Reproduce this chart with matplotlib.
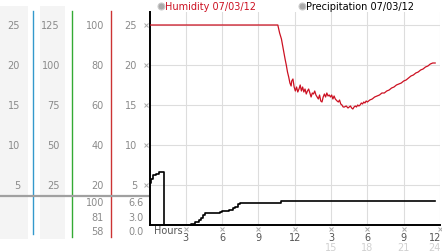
import matplotlib
matplotlib.use('Agg')
import matplotlib.pyplot as plt
from matplotlib import transforms

# humidity in %, drawn on the 0-25 scale (100% = 25)
hum_hours = [0.0, 10.6, 10.75, 10.9, 11.05, 11.2, 11.3, 11.4, 11.5, 11.6, 11.7, 11.75, 11.85,
             11.95, 12.05, 12.15, 12.25, 12.35, 12.45, 12.55, 12.65, 12.75, 12.85, 12.95,
             13.05, 13.15, 13.25, 13.35, 13.45, 13.55, 13.65, 13.75, 13.85, 13.95, 14.05,
             14.15, 14.25, 14.35, 14.45, 14.55, 14.65, 14.75, 14.85, 14.95, 15.05, 15.15,
             15.25, 15.35, 15.5, 15.6, 15.7, 15.8, 15.9, 16.0, 16.1, 16.25, 16.4, 16.5,
             16.6, 16.7, 16.8, 16.9, 17.0, 17.1, 17.2, 17.3, 17.4, 17.5, 17.6, 17.7, 17.8,
             17.9, 18.0, 18.2, 18.4, 18.6, 18.8, 19.0, 19.2, 19.4, 19.6, 19.8, 20.0, 20.2,
             20.4, 20.6, 20.8, 21.0, 21.2, 21.4, 21.6, 21.8, 22.0, 22.2, 22.4, 22.6, 22.8,
             23.0, 23.2, 23.4, 23.6]
hum_pct = [100, 100, 96, 93, 88, 83, 80, 76.5, 74, 71, 69.5, 72, 73,
           69, 67, 69, 66.5, 68, 70, 67, 69, 66.5, 68, 65.5,
           67, 68, 66, 64, 66, 65.5, 67, 65, 64, 63, 65,
           62, 61.5, 64, 65.5, 64, 66, 64.5, 65, 64, 65, 63,
           64.5, 63, 62, 61.5, 62.5, 60.5, 60, 59, 59, 59.5, 58.5, 59,
           59.5, 58.5, 58, 59, 59.5, 59, 60, 59.5, 60, 61, 60.5, 61.5, 61,
           62, 61.5, 62.5, 63, 64, 64.5, 65, 66, 66, 67, 67.5, 68.5, 69,
           70, 70.5, 71, 72, 72.5, 73.5, 74.5, 75, 76, 76.5, 77.5, 78, 79,
           79.5, 80.5, 81, 81]

# precipitation (steps)
pre_hours = [0.0, 0.15, 0.3, 0.55, 0.8, 1.18, 3.45, 3.75, 4.1, 4.25, 4.4, 4.6,
             5.8, 5.95, 6.6, 6.9, 7.1, 7.3, 7.5, 10.9, 23.6]
pre_vals = [5.3, 5.8, 6.25, 6.4, 6.6, 0.0, 0.15, 0.4, 0.6, 0.9, 1.2, 1.5,
            1.6, 1.8, 1.9, 2.1, 2.3, 2.6, 2.75, 3.0, 3.0]

scale1 = [25, 20, 15, 10, 5]
scale2 = [125, 100, 75, 50, 25]
scale3 = [100, 80, 60, 40, 20]
scale4 = [25, 20, 15, 10, 5]
xtick_pos = [3, 6, 9, 12, 15, 18, 21, 24]
xtick_lab = ['3', '6', '9', '12', '3', '6', '9', '12']
xtick_lab2 = ['15', '18', '21', '24']

W, H = 442, 253
fig = plt.figure(figsize=(W / 100, H / 100), dpi=100)

# pixel overlay for the side panels
ov = fig.add_axes([0, 0, 1, 1])
ov.set_xlim(0, W)
ov.set_ylim(H, 0)
ov.axis('off')

ax = fig.add_axes([149.5 / W, 1 - 226 / H, 290.5 / W, 213 / H])
ax.set_facecolor('none')
ax.set_xlim(0, 24)
ax.set_ylim(0, 213 / 8)

lab_c = '#8a8a8a'
fs = 7

# panel backgrounds and coloured bars
ov.fill_between([0, 28], 7, 240, color='#f4f4f4', lw=0)
ov.fill_between([40, 65], 7, 240, color='#f4f4f4', lw=0)
ov.plot([33, 33], [12, 235], color='#3399cc', lw=1)
ov.plot([72, 72], [12, 238], color='#33aa33', lw=1)
ov.plot([111, 111], [12, 238], color='#cc3333', lw=1)
ov.plot([0, 149], [196.5, 196.5], color='#a0a0a0', lw=1.6)

# scale labels placed at data heights
tr = transforms.blended_transform_factory(ov.transData, ax.transData)
for i in range(len(scale4)):
    y = scale4[i]
    ov.text(20, y, str(scale1[i]), transform=tr, ha='right', va='center', fontsize=fs, color=lab_c)
    ov.text(60, y, str(scale2[i]), transform=tr, ha='right', va='center', fontsize=fs, color=lab_c)
    ov.text(104, y, str(scale3[i]), transform=tr, ha='right', va='center', fontsize=fs, color=lab_c)
    ov.text(137, y, str(scale4[i]), transform=tr, ha='right', va='center', fontsize=fs, color=lab_c)
    ov.plot(145.5, y, transform=tr, marker='x', ms=2.5, mew=0.7, color='#aaaaaa')
    ax.axhline(y, color='#dddddd', lw=0.8, zorder=0)

# max / current / min
hum_stats = [max(hum_pct), hum_pct[-1], min(hum_pct)]
pre_stats = [max(pre_vals), pre_vals[-1], min(pre_vals)]
for i, yy in enumerate([203, 218, 232.5]):
    ov.text(104, yy, '%d' % round(hum_stats[i]), ha='right', va='center', fontsize=fs, color=lab_c)
    ov.text(144, yy, '%.1f' % pre_stats[i], ha='right', va='center', fontsize=fs, color=lab_c)

# x ticks (last one pulled inside the figure edge)
trx = transforms.blended_transform_factory(ax.transData, ov.transData)
for p, l in zip(xtick_pos, xtick_lab):
    ax.axvline(p, color='#dddddd', lw=0.8, zorder=0)
    ov.plot(p, 230, transform=trx, marker='x', ms=2.5, mew=0.7, color='#aaaaaa')
    if p == xtick_pos[-1]:
        ov.text(441, 238.5, l, ha='right', va='center', fontsize=fs, color='#555555')
    else:
        ov.text(p, 238.5, l, transform=trx, ha='center', va='center', fontsize=fs, color='#555555')
for p, l in zip(xtick_pos[4:], xtick_lab2):
    if p == xtick_pos[-1]:
        ov.text(441, 248.5, l, ha='right', va='center', fontsize=fs, color='#d0d0d0')
    else:
        ov.text(p, 248.5, l, transform=trx, ha='center', va='center', fontsize=fs, color='#d0d0d0')
ov.text(154, 231, 'Hours', ha='left', va='center', fontsize=fs, color='#555555')

# series
ax.plot(hum_hours, [v / 4 for v in hum_pct], color='#cc1122', lw=0.9, zorder=3)
ax.plot(pre_hours, pre_vals, color='black', lw=1.2, drawstyle='steps-post', zorder=3)

for s in ['top', 'right']:
    ax.spines[s].set_visible(False)
ax.spines['left'].set_linewidth(1.4)
ax.spines['bottom'].set_linewidth(1.4)
ax.set_xticks([])
ax.set_yticks([])

# legend
ov.plot(161, 7, 'o', ms=5, mfc='#aaaaaa', mec='#cccccc', mew=0.8)
ov.text(165, 7, 'Humidity 07/03/12', ha='left', va='center', fontsize=fs, color='#cc1122')
ov.plot(302, 7, 'o', ms=5, mfc='#aaaaaa', mec='#cccccc', mew=0.8)
ov.text(306, 7, 'Precipitation 07/03/12', ha='left', va='center', fontsize=fs, color='black')

fig.savefig('out.png', dpi=100)
